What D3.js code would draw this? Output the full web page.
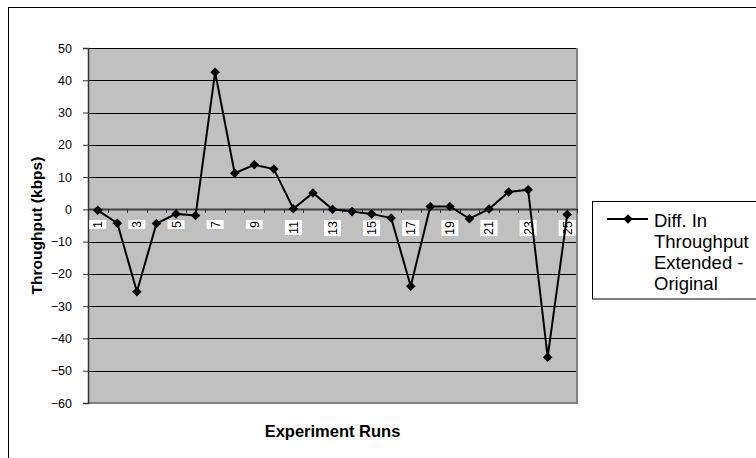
<!DOCTYPE html>
<html>
<head>
<meta charset="utf-8">
<script src="https://cdn.jsdelivr.net/npm/d3@7"></script>
<style>
  html, body { margin: 0; padding: 0; background: #fff; }
  svg { display: block; }
  text { font-family: Arial, "Liberation Sans", sans-serif; }
</style>
</head>
<body>
<svg id="chart" width="756" height="458"></svg>
<script>
// ---- data ----
const runs = [1,2,3,4,5,6,7,8,9,10,11,12,13,14,15,16,17,18,19,20,21,22,23,24,25];
const diffThroughput = [-0.3,-4.3,-25.5,-4.4,-1.4,-1.9,42.5,11.2,13.8,12.5,0.2,5.1,0,-0.7,-1.4,-2.7,-23.8,0.9,0.9,-2.9,0.1,5.4,6.1,-45.8,-1.6];
const yTicks = [50,40,30,20,10,0,-10,-20,-30,-40,-50,-60];
const xTickLabels = runs.filter(d => d % 2 === 1);
const seriesName = ["Diff. In", "Throughput", "Extended -", "Original"];
const xTitle = "Experiment Runs";
const yTitle = "Throughput (kbps)";

// ---- layout ----
const svg = d3.select("#chart");
const plot = {left: 88, right: 577, top: 48, bottom: 403};

const x = d3.scaleBand().domain(runs).range([plot.left, plot.right]).paddingInner(0).paddingOuter(0);
const y = d3.scaleLinear().domain([-60, 50]).range([plot.bottom, plot.top]);
const cx = d => x(d) + x.bandwidth() / 2;

// outer border
svg.append("rect").attr("x", 8.5).attr("y", 7.5).attr("width", 760).attr("height", 470)
  .attr("fill", "none").attr("stroke", "#000").attr("stroke-width", 1);

// plot background
svg.append("rect").attr("x", plot.left).attr("y", plot.top)
  .attr("width", plot.right - plot.left).attr("height", plot.bottom - plot.top)
  .attr("fill", "#c0c0c0");

// gridlines
svg.append("g").selectAll("line").data(yTicks.filter(d => d !== 0 && d !== -60)).join("line")
  .attr("x1", plot.left).attr("x2", plot.right)
  .attr("y1", d => Math.round(y(d)) + 0.5).attr("y2", d => Math.round(y(d)) + 0.5)
  .attr("stroke", "#000").attr("stroke-width", 1);

// plot border right & bottom (gray)
svg.append("line").attr("x1", plot.right).attr("x2", plot.right).attr("y1", plot.top).attr("y2", plot.bottom + 1)
  .attr("stroke", "#808080").attr("stroke-width", 2);
svg.append("line").attr("x1", plot.left).attr("x2", plot.right + 1).attr("y1", plot.bottom).attr("y2", plot.bottom)
  .attr("stroke", "#808080").attr("stroke-width", 2);

// y axis
const yAxis = d3.axisLeft(y).tickValues(yTicks).tickSize(5).tickPadding(11).tickFormat(d3.format("d"));
const gy = svg.append("g").attr("transform", `translate(${plot.left},0)`).call(yAxis);
gy.select(".domain").attr("stroke", "#333").attr("stroke-width", 1.5);
gy.selectAll(".tick line").attr("stroke", "#333");
gy.selectAll(".tick text").attr("font-size", 12.5).attr("fill", "#000")
  .attr("font-family", "Arial, 'Liberation Sans', sans-serif");

// x axis at zero
const y0 = Math.round(y(0));
const xAxis = d3.axisBottom(x).tickValues([]).tickSizeOuter(0);
const gx = svg.append("g").attr("transform", `translate(0,${y0})`).call(xAxis);
gx.select(".domain").attr("stroke", "#404040").attr("stroke-width", 2);
// tick marks at band boundaries
svg.append("g").selectAll("line").data(runs.concat([null])).join("line")
  .attr("x1", (d, i) => Math.round(plot.left + i * x.bandwidth()) + 0.5)
  .attr("x2", (d, i) => Math.round(plot.left + i * x.bandwidth()) + 0.5)
  .attr("y1", y0).attr("y2", y0 + 4)
  .attr("stroke", "#333").attr("stroke-width", 1);

// x tick labels (rotated, with white background)
const lab = svg.append("g").selectAll("g").data(xTickLabels).join("g")
  .attr("transform", d => `translate(${cx(d)},${y0 + 12}) rotate(-90)`);
lab.each(function(d) {
  const g = d3.select(this);
  const t = g.append("text").text(d).attr("font-size", 12.5).attr("text-anchor", "end")
    .attr("dy", "0.36em").attr("fill", "#000");
  const w = t.node().getComputedTextLength();
  g.insert("rect", "text").attr("x", -w - 1).attr("y", -8.5).attr("width", w + 2).attr("height", 17).attr("fill", "#fff");
});

// series line
const line = d3.line().x((d, i) => cx(runs[i])).y(d => y(d));
svg.append("path").datum(diffThroughput).attr("d", line)
  .attr("fill", "none").attr("stroke", "#000").attr("stroke-width", 2).attr("stroke-linejoin", "miter");

// markers
const diamond = d3.symbol().type(d3.symbolDiamond2).size(58);
svg.append("g").selectAll("path").data(diffThroughput).join("path")
  .attr("d", diamond)
  .attr("transform", (d, i) => `translate(${cx(runs[i])},${y(d)})`)
  .attr("fill", "#000");

// axis titles
svg.append("text").text(xTitle).attr("x", (plot.left + plot.right) / 2).attr("y", 437)
  .attr("text-anchor", "middle").attr("font-size", 16.5).attr("font-weight", "bold");
svg.append("text").text(yTitle).attr("transform", `translate(42,${(plot.top + plot.bottom) / 2}) rotate(-90)`)
  .attr("text-anchor", "middle").attr("font-size", 15.5).attr("font-weight", "bold");

// legend
svg.append("rect").attr("x", 592.5).attr("y", 201.5).attr("width", 200).attr("height", 97.5)
  .attr("fill", "#fff").attr("stroke", "#000").attr("stroke-width", 1);
svg.append("line").attr("x1", 607).attr("x2", 648).attr("y1", 219).attr("y2", 219)
  .attr("stroke", "#000").attr("stroke-width", 2);
svg.append("path").attr("d", diamond).attr("transform", "translate(628,219)").attr("fill", "#000");
svg.append("g").selectAll("text").data(seriesName).join("text")
  .attr("x", 654).attr("y", (d, i) => 227 + i * 21).text(d => d)
  .attr("font-size", 18.5).attr("fill", "#000");
</script>
</body>
</html>
